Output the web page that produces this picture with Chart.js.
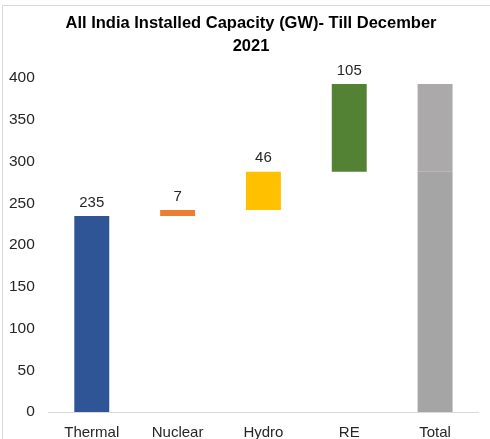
<!DOCTYPE html>
<html>
<head>
<meta charset="utf-8">
<script src="https://cdn.jsdelivr.net/npm/chart.js@4"></script>
<style>
  html, body { margin: 0; padding: 0; background: #fff; }
</style>
</head>
<body>
<canvas id="capacity" width="490" height="439"></canvas>
<script>
// installed capacity by source (GW), Dec 2021
const categories = ['Thermal', 'Nuclear', 'Hydro', 'RE', 'Total'];
const increments = [235, 7, 46, 105];
const colors = ['#2F5597', '#ED7D31', '#FFC000', '#548235'];
const yTicks = [0, 50, 100, 150, 200, 250, 300, 350, 400];
const titleLines = ['All India Installed Capacity (GW)- Till December', '2021'];

// waterfall: each bar floats on top of the previous ones
let running = 0;
const steps = increments.map(v => {
  const bar = [running, running + v];
  running += v;
  return bar;
});
const nonRE = running - increments[3];
const total = running;

const FONT = '"Liberation Sans", Arial, sans-serif';
const TITLE_SIZE = 16.5, TITLE_LH = 1.4, TITLE_TOP = 12;

const frame = {
  id: 'frame',
  beforeDraw(chart) {
    const ctx = chart.ctx;
    ctx.save();
    ctx.strokeStyle = '#d9d9d9';
    ctx.lineWidth = 1;
    ctx.beginPath();
    ctx.moveTo(2.5, 439);
    ctx.lineTo(2.5, 5.5);
    ctx.lineTo(490, 5.5);
    ctx.stroke();
    ctx.restore();
  },
  // title is laid out by chart.js but painted here, centred on the whole chart box
  afterDraw(chart) {
    const ctx = chart.ctx;
    const tb = chart.titleBlock;
    ctx.save();
    ctx.font = 'bold ' + TITLE_SIZE + 'px ' + FONT;
    ctx.fillStyle = '#000';
    ctx.textAlign = 'center';
    ctx.textBaseline = 'middle';
    titleLines.forEach((t, i) => {
      ctx.fillText(t, 251, tb.top + TITLE_TOP + TITLE_SIZE * TITLE_LH * (i + 0.5));
    });
    ctx.restore();
  }
};

const valueLabels = {
  id: 'valueLabels',
  afterDatasetsDraw(chart) {
    const ctx = chart.ctx;
    const meta = chart.getDatasetMeta(0);
    ctx.save();
    ctx.font = '15px ' + FONT;
    ctx.fillStyle = '#262626';
    ctx.textAlign = 'center';
    ctx.textBaseline = 'bottom';
    increments.forEach((v, i) => {
      const el = meta.data[i];
      ctx.fillText(String(v), el.x, el.y - 6);
    });
    ctx.restore();
  }
};

new Chart(document.getElementById('capacity'), {
  type: 'bar',
  data: {
    labels: categories,
    datasets: [
      {
        label: 'Capacity',
        data: [...steps, [0, nonRE]],
        backgroundColor: [...colors, '#A5A5A5'],
        grouped: false,
        barPercentage: 0.407,
        categoryPercentage: 1
      },
      {
        label: 'Total RE',
        data: [null, null, null, null, [nonRE, total]],
        backgroundColor: '#ABA9A9',
        grouped: false,
        barPercentage: 0.407,
        categoryPercentage: 1
      }
    ]
  },
  options: {
    responsive: false,
    animation: false,
    layout: { padding: { left: -5, right: 12, top: 0, bottom: -15 } },
    plugins: {
      legend: { display: false },
      tooltip: { enabled: false },
      title: {
        display: true,
        text: titleLines,
        color: 'rgba(0,0,0,0)',
        font: { family: FONT, size: TITLE_SIZE, weight: 'bold', lineHeight: TITLE_LH },
        padding: { top: TITLE_TOP, bottom: 20 }
      }
    },
    scales: {
      x: {
        grid: { display: false, drawTicks: false },
        border: { color: '#d9d9d9' },
        ticks: {
          color: '#262626',
          padding: 12,
          font: { family: FONT, size: 15 }
        }
      },
      y: {
        min: 0,
        max: 400,
        afterBuildTicks: axis => { axis.ticks = yTicks.map(v => ({ value: v })); },
        grid: { display: false, drawTicks: false },
        border: { display: false },
        ticks: {
          color: '#262626',
          padding: 14,
          font: { family: FONT, size: 15.5 }
        }
      }
    }
  },
  plugins: [frame, valueLabels]
});
</script>
</body>
</html>
